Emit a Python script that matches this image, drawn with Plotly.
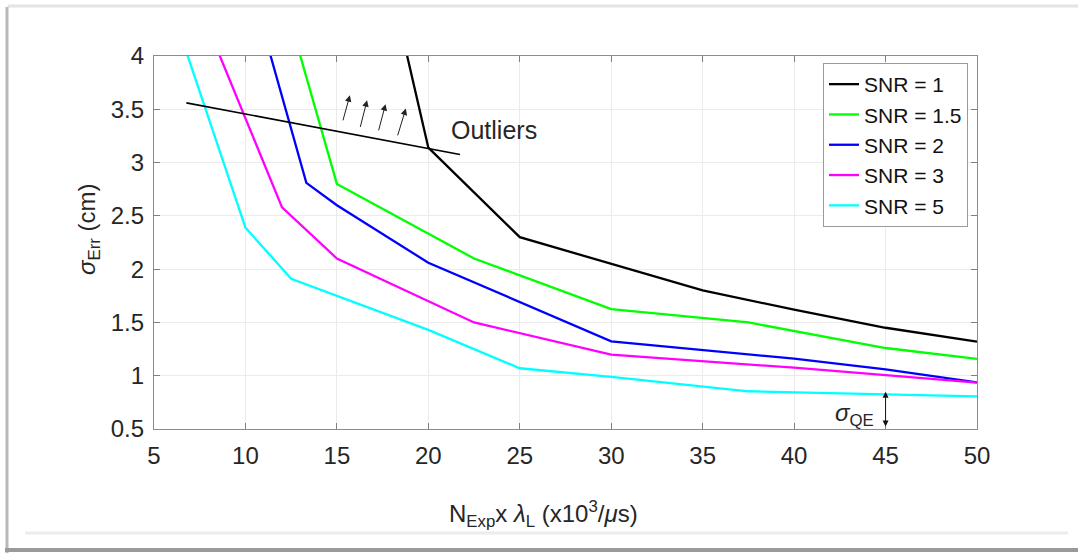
import plotly.graph_objects as go

# ---- data ----
x_snr1 = [17.5, 20, 25, 30, 35, 40, 45, 50]
y_snr1 = [5.0, 3.14, 2.30, 2.05, 1.80, 1.62, 1.45, 1.32]

x_snr15 = [12.5, 15, 22.5, 30, 37.5, 45, 50]
y_snr15 = [4.30, 2.80, 2.10, 1.625, 1.50, 1.26, 1.157]

x_snr2 = [10, 13.33, 15, 20, 30, 40, 45, 50]
y_snr2 = [4.84, 2.81, 2.60, 2.06, 1.322, 1.16, 1.06, 0.938]

x_snr3 = [7.5, 12, 15, 22.5, 30, 40, 50]
y_snr3 = [4.46, 2.58, 2.10, 1.50, 1.198, 1.075, 0.935]

x_snr5 = [5, 10, 12.5, 15, 20, 25, 30, 37.5, 45, 50]
y_snr5 = [4.94, 2.39, 1.91, 1.75, 1.43, 1.07, 0.99, 0.854, 0.823, 0.807]

series_names = ["SNR = 1", "SNR = 1.5", "SNR = 2", "SNR = 3", "SNR = 5"]
series_x = [x_snr1, x_snr15, x_snr2, x_snr3, x_snr5]
series_y = [y_snr1, y_snr15, y_snr2, y_snr3, y_snr5]
series_colors = ["#000000", "#00ff00", "#0000ff", "#ff00ff", "#00ffff"]

outlier_line_x = [6.77, 21.73]
outlier_line_y = [3.56, 3.076]

arrow_tail_x = [15.31, 16.26, 17.26, 18.30]
arrow_tail_y = [3.382, 3.320, 3.288, 3.241]
arrow_head_x = [15.71, 16.65, 17.66, 18.77]
arrow_head_y = [3.632, 3.585, 3.548, 3.507]

qe_x = 45
qe_top = 0.85
qe_bottom = 0.51

x_ticks = [5, 10, 15, 20, 25, 30, 35, 40, 45, 50]
y_ticks = [0.5, 1, 1.5, 2, 2.5, 3, 3.5, 4]
y_tick_text = ["0.5", "1", "1.5", "2", "2.5", "3", "3.5", "4"]

# ---- layout geometry ----
FW, FH = 1078, 557
ML, MR, MT, MB = 154, 101, 56, 128
PW = FW - ML - MR
PH = FH - MT - MB


def px(xp):
    return (xp - ML) / PW


def py(yp):
    return 1 - (yp - MT) / PH


FONT = "Liberation Sans, Arial, sans-serif"
TXT = "#262626"

fig = go.Figure()
for name, xs, ys, col in zip(series_names, series_x, series_y, series_colors):
    fig.add_trace(go.Scatter(x=xs, y=ys, mode="lines", name=name,
                             line=dict(color=col, width=2.3)))

fig.add_trace(go.Scatter(x=outlier_line_x, y=outlier_line_y, mode="lines",
                         line=dict(color="black", width=1.6), showlegend=False,
                         hoverinfo="skip"))

annotations = []
for tx, ty, hx, hy in zip(arrow_tail_x, arrow_tail_y, arrow_head_x, arrow_head_y):
    annotations.append(dict(x=hx, y=hy, ax=tx, ay=ty, xref="x", yref="y",
                            axref="x", ayref="y", text="", showarrow=True,
                            arrowhead=2, arrowsize=1.3, arrowwidth=1,
                            arrowcolor="#222222"))

annotations.append(dict(x=21.12, y=3.31, xref="x", yref="y", text="Outliers",
                        showarrow=False, xanchor="left", yanchor="middle",
                        font=dict(family=FONT, size=25, color=TXT)))

annotations.append(dict(x=qe_x, y=qe_top, ax=qe_x, ay=qe_bottom, xref="x", yref="y",
                        axref="x", ayref="y", text="", showarrow=True,
                        arrowhead=2, startarrowhead=2, arrowside="end+start",
                        arrowsize=1.2, startarrowsize=1.2, arrowwidth=1,
                        arrowcolor="#111111"))
annotations.append(dict(x=44.49, y=0.64, xref="x", yref="y",
                        text="<i>σ</i><sub>QE</sub>", showarrow=False,
                        xanchor="right", yanchor="middle",
                        font=dict(family=FONT, size=24, color=TXT)))

# axis titles
annotations.append(dict(x=px(543), y=py(514), xref="paper", yref="paper",
                        text="N<sub>Exp</sub>x <i>λ</i><sub>L</sub> (x10<sup>3</sup>/<i>μ</i>s)",
                        showarrow=False, xanchor="center", yanchor="middle",
                        font=dict(family=FONT, size=24, color=TXT)))
annotations.append(dict(x=px(88), y=py(229), xref="paper", yref="paper",
                        text="<i>σ</i><sub>Err</sub> (cm)", textangle=-90,
                        showarrow=False, xanchor="center", yanchor="middle",
                        font=dict(family=FONT, size=24, color=TXT)))

# frame decoration (screenshot panel border)
shapes = [
    dict(type="line", xref="paper", yref="paper", x0=px(8), x1=px(1078),
         y0=py(6), y1=py(6), line=dict(color="#e4e4e4", width=3)),
    dict(type="line", xref="paper", yref="paper", x0=px(7), x1=px(7),
         y0=py(7), y1=py(553), line=dict(color="#b8b8b8", width=3)),
    dict(type="line", xref="paper", yref="paper", x0=px(5), x1=px(1078),
         y0=py(550), y1=py(550), line=dict(color="#9a9a9a", width=4)),
    dict(type="line", xref="paper", yref="paper", x0=px(25), x1=px(1068),
         y0=py(533), y1=py(533), line=dict(color="#ececec", width=3)),
]

fig.update_layout(
    width=FW, height=FH,
    margin=dict(l=ML, r=MR, t=MT, b=MB, pad=0),
    paper_bgcolor="white", plot_bgcolor="white",
    font=dict(family=FONT, size=24, color=TXT),
    showlegend=True,
    legend=dict(x=px(968), y=py(63), xanchor="right", yanchor="top",
                bgcolor="white", bordercolor="#9a9a9a", borderwidth=1,
                font=dict(family=FONT, size=21, color="#111111"),
                tracegroupgap=0, itemwidth=30),
    annotations=annotations,
    shapes=shapes,
)

fig.update_xaxes(range=[5, 50], tickmode="array", tickvals=x_ticks,
                 ticks="inside", ticklen=6, tickcolor="#808080",
                 showline=True, linecolor="#8c8c8c", linewidth=1.2, mirror="ticks",
                 showgrid=True, gridcolor="#ebebeb", gridwidth=1, zeroline=False,
                 tickfont=dict(family=FONT, size=24, color=TXT),
                 ticklabelstandoff=5)
fig.update_yaxes(range=[0.5, 4], tickmode="array", tickvals=y_ticks, ticktext=y_tick_text,
                 ticks="inside", ticklen=6, tickcolor="#808080",
                 showline=True, linecolor="#8c8c8c", linewidth=1.2, mirror="ticks",
                 showgrid=True, gridcolor="#ebebeb", gridwidth=1, zeroline=False,
                 tickfont=dict(family=FONT, size=24, color=TXT),
                 ticklabelstandoff=4)

fig.write_html("out.html")
